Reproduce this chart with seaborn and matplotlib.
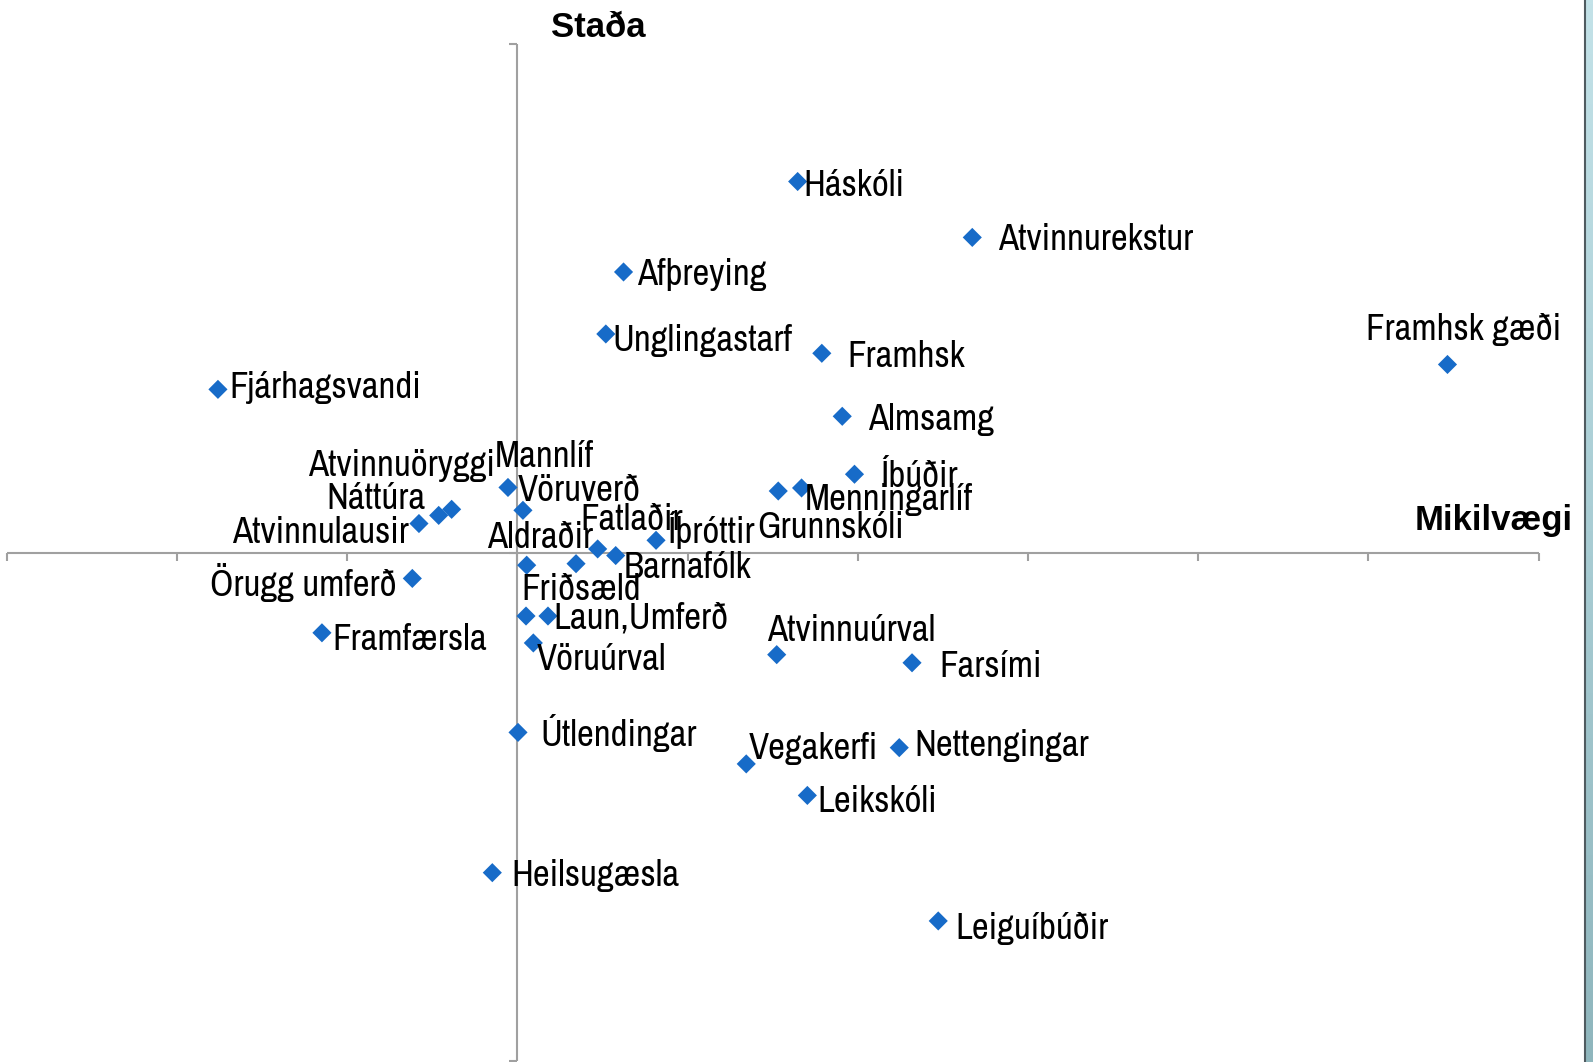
import numpy as np
import pandas as pd
import matplotlib
matplotlib.use("Agg")
import matplotlib.pyplot as plt
from matplotlib import font_manager as fm
from matplotlib.lines import Line2D
from matplotlib.colors import LinearSegmentedColormap
import seaborn as sns

# ---------------- data ----------------
names = ["Háskóli", "Atvinnurekstur", "Afþreying", "Unglingastarf", "Framhsk",
         "Framhsk gæði", "Fjárhagsvandi", "Almsamg", "Íbúðir", "Grunnskóli",
         "Menningarlíf", "Mannlíf", "Vöruverð", "Atvinnulausir", "Náttúra",
         "Atvinnuöryggi", "Aldraðir", "Barnafólk", "Íþróttir", "Friðsæld",
         "Fatlaðir", "Laun", "Umferð", "Vöruúrval", "Örugg umferð",
         "Framfærsla", "Útlendingar", "Heilsugæsla", "Atvinnuúrval", "Farsími",
         "Vegakerfi", "Nettengingar", "Leikskóli", "Leiguíbúðir"]
mikilvaegi = [1.646, 2.672, 0.623, 0.519, 1.788,
              5.464, -1.760, 1.908, 1.980, 1.532,
              1.669, -0.056, 0.032, -0.579, -0.463,
              -0.387, 0.471, 0.577, 0.814, 0.054,
              0.344, 0.050, 0.179, 0.093, -0.618,
              -1.149, 0.003, -0.148, 1.523, 2.318,
              1.344, 2.243, 1.703, 2.472]
stada = [0.730, 0.620, 0.552, 0.430, 0.392,
         0.370, 0.321, 0.268, 0.154, 0.121,
         0.127, 0.128, 0.083, 0.057, 0.073,
         0.085, 0.007, -0.006, 0.024, -0.025,
         -0.022, -0.125, -0.125, -0.178, -0.051,
         -0.158, -0.354, -0.630, -0.201, -0.217,
         -0.416, -0.384, -0.478, -0.725]
label_texts = ["Háskóli", "Atvinnurekstur", "Afþreying", "Unglingastarf", "Framhsk",
               "Framhsk gæði", "Fjárhagsvandi", "Almsamg", "Íbúðir", "Grunnskóli",
               "Menningarlíf", "Mannlíf", "Vöruverð", "Atvinnulausir", "Náttúra",
               "Atvinnuöryggi", "Aldraðir", "Barnafólk", "Íþróttir", "Friðsæld",
               "Fatlaðir", "", "Laun,Umferð", "Vöruúrval", "Örugg umferð",
               "Framfærsla", "Útlendingar", "Heilsugæsla", "Atvinnuúrval", "Farsími",
               "Vegakerfi", "Nettengingar", "Leikskóli", "Leiguíbúðir"]
x_title = "Mikilvægi"
y_title = "Staða"

# label layout: (dx px, dy px upward, horizontal alignment)
label_layout = [(6, -14, "left"), (26, -13, "left"), (13, -13, "left"), (7, -17, "left"), (26, -14, "left"),
                (113.5, 24, "right"), (11, -8.5, "left"), (26, -14, "left"), (26, -13, "left"), (-21, -47, "left"),
                (3, -22, "left"), (-13, 20, "left"), (-5, 9, "left"), (-10, -19, "right"), (-13, 6, "right"),
                (43, 33, "right"), (-5, 1, "right"), (8, -22, "left"), (11, -3, "left"), (-5, -35, "left"),
                (4, 34, "left"), (0, 0, "left"), (5, -12, "left"), (3, -27, "left"), (-16, -18, "right"),
                (10, -17, "left"), (22, -14, "left"), (19, -13, "left"), (-10, 14, "left"), (27, -14, "left"),
                (2, 5, "left"), (15, -8, "left"), (10, -17, "left"), (17, -18, "left")]

df = pd.DataFrame({"name": names, x_title: mikilvaegi, y_title: stada})

# ---------------- style ----------------
sns.set_theme(style="white")
plt.rcParams["font.family"] = ["Liberation Sans", "DejaVu Sans"]

# try to find a narrow sans font; otherwise use Liberation Sans a bit smaller
label_prop = None
for f in fm.fontManager.ttflist:
    nm = f.name.lower()
    if ("narrow" in nm) and f.weight in (400, "normal", "regular") and f.style == "normal":
        label_prop = fm.FontProperties(fname=f.fname)
        break
if label_prop is not None:
    label_size = 26.5
else:
    label_prop = fm.FontProperties(family=["Liberation Sans", "DejaVu Sans"])
    label_size = 22.5

W, H = 1593, 1062
fig = plt.figure(figsize=(W / 100, H / 100), dpi=100)
fig.patch.set_facecolor("white")

x0, x1, y0, y1 = 6.9, 1538.7, 44.3, 1060.7
ax = fig.add_axes([x0 / W, 1 - y1 / H, (x1 - x0) / W, (y1 - y0) / H])
ax.set_facecolor("none")

sns.scatterplot(data=df, x=x_title, y=y_title, marker="D", s=95,
                color="#176bc8", edgecolor="none", linewidth=0, ax=ax,
                legend=False, zorder=3)

ax.set_xlim(-3, 6)
ax.set_ylim(-1, 1)
ax.set_xticks(range(-3, 7))
ax.set_yticks([-1, 0, 1])
axis_col = "#a0a0a0"
for s in ["top", "right"]:
    ax.spines[s].set_visible(False)
for s in ["left", "bottom"]:
    ax.spines[s].set_position(("data", 0))
    ax.spines[s].set_color(axis_col)
    ax.spines[s].set_linewidth(1.5)
    ax.spines[s].set_capstyle("butt")
ax.tick_params(axis="both", which="major", bottom=True, left=True, direction="out",
               length=6, width=1.5, color=axis_col, labelbottom=False, labelleft=False)
ax.set_xlabel("")
ax.set_ylabel("")

for xv, yv, txt, (dx, dy, ha) in zip(mikilvaegi, stada, label_texts, label_layout):
    if not txt:
        continue
    ax.annotate(txt, (xv, yv), xytext=(dx * 0.72, dy * 0.72), textcoords="offset points",
                ha=ha, va="baseline", fontproperties=label_prop, fontsize=label_size,
                color="black", zorder=4, annotation_clip=False)

fig.text(598.5 / W, 1 - 36.6 / H, y_title, ha="center", va="baseline", color="black",
         fontsize=25, fontweight="bold", family=["Liberation Sans", "DejaVu Sans"])
fig.text(1573 / W, 1 - 530 / H, x_title, ha="right", va="baseline", color="black",
         fontsize=25, fontweight="bold", family=["Liberation Sans", "DejaVu Sans"])

# decorative right-edge bar
bar = fig.add_axes([1586 / W, 0, 7 / W, 1])
grad = np.linspace(0, 1, 256).reshape(-1, 1)
cmap = LinearSegmentedColormap.from_list("edge", ["#c3e2e8", "#a9cdd4", "#8fb6bd"])
bar.imshow(grad, aspect="auto", cmap=cmap, extent=[0, 1, 0, 1], origin="upper")
bar.set_axis_off()
fig.add_artist(Line2D([1585 / W, 1585 / W], [0, 1], color="#4f5b60", lw=1.5,
                      transform=fig.transFigure))

fig.savefig("out.png", dpi=100, facecolor="white")
